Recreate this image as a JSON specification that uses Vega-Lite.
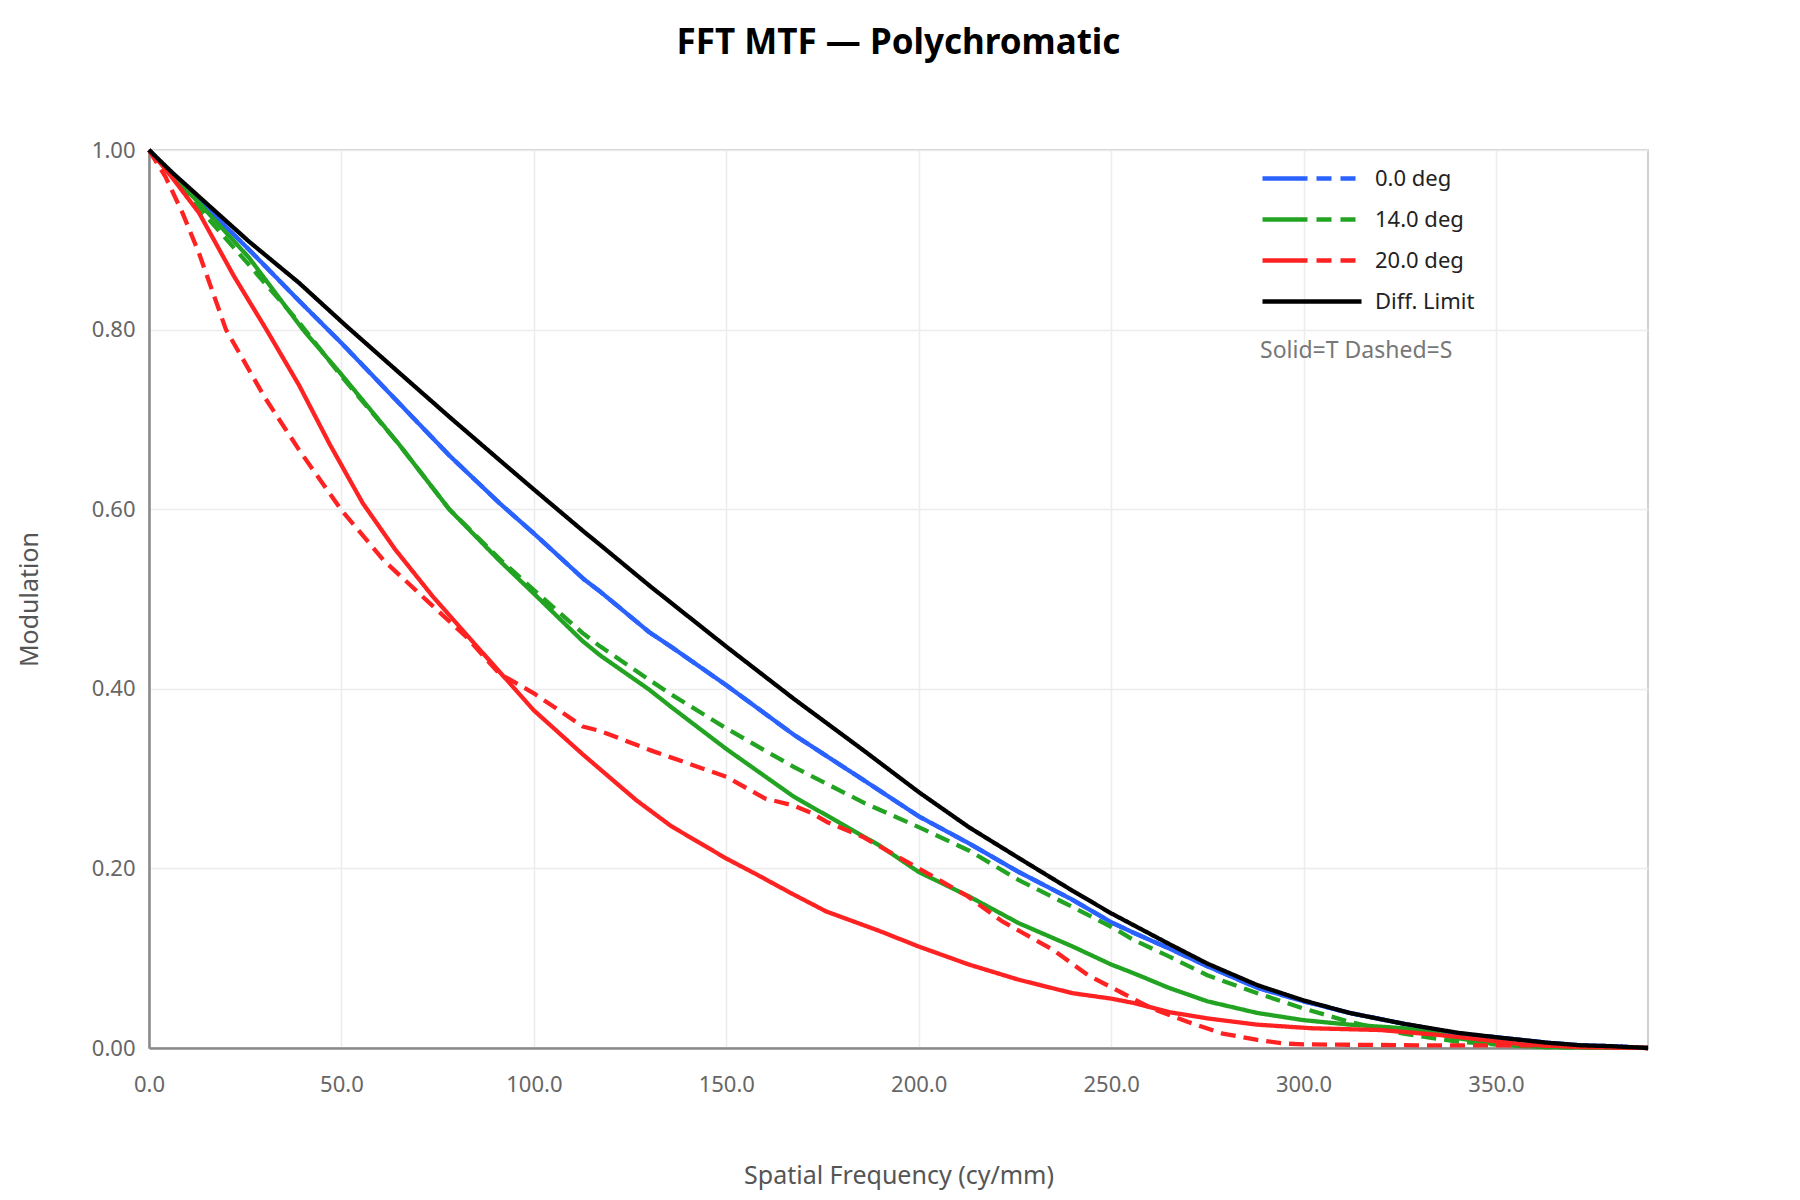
{
  "$schema": "https://vega.github.io/schema/vega-lite/v6.json",
  "width": 1499,
  "height": 898,
  "autosize": {"type": "none"},
  "padding": {"left": 149, "top": 150, "right": 152, "bottom": 152},
  "background": "white",
  "title": {"text": "FFT MTF — Polychromatic", "fontSize": 35, "fontWeight": "bold", "font": "Noto Sans", "color": "#000000", "anchor": "middle", "offset": 78},
  "datasets": {
    "mtf": [
      {"series":"0.0 deg","dir":"T","freq":0,"mtf":1},{"series":"0.0 deg","dir":"T","freq":6,"mtf":0.972},{"series":"0.0 deg","dir":"T","freq":13,"mtf":0.944},{"series":"0.0 deg","dir":"T","freq":26,"mtf":0.889},{"series":"0.0 deg","dir":"T","freq":39,"mtf":0.832},{"series":"0.0 deg","dir":"T","freq":50,"mtf":0.785},{"series":"0.0 deg","dir":"T","freq":65,"mtf":0.718},{"series":"0.0 deg","dir":"T","freq":78,"mtf":0.66},{"series":"0.0 deg","dir":"T","freq":91,"mtf":0.607},{"series":"0.0 deg","dir":"T","freq":100,"mtf":0.573},{"series":"0.0 deg","dir":"T","freq":113,"mtf":0.522},{"series":"0.0 deg","dir":"T","freq":117.3,"mtf":0.508},{"series":"0.0 deg","dir":"T","freq":130,"mtf":0.463},{"series":"0.0 deg","dir":"T","freq":135.6,"mtf":0.447},{"series":"0.0 deg","dir":"T","freq":150,"mtf":0.404},{"series":"0.0 deg","dir":"T","freq":167.5,"mtf":0.349},{"series":"0.0 deg","dir":"T","freq":185.8,"mtf":0.298},{"series":"0.0 deg","dir":"T","freq":200,"mtf":0.258},{"series":"0.0 deg","dir":"T","freq":213,"mtf":0.228},{"series":"0.0 deg","dir":"T","freq":226,"mtf":0.196},{"series":"0.0 deg","dir":"T","freq":240,"mtf":0.165},{"series":"0.0 deg","dir":"T","freq":250,"mtf":0.14},{"series":"0.0 deg","dir":"T","freq":256,"mtf":0.128},{"series":"0.0 deg","dir":"T","freq":265,"mtf":0.111},{"series":"0.0 deg","dir":"T","freq":275,"mtf":0.091},{"series":"0.0 deg","dir":"T","freq":288,"mtf":0.067},{"series":"0.0 deg","dir":"T","freq":300,"mtf":0.052},{"series":"0.0 deg","dir":"T","freq":312,"mtf":0.039},{"series":"0.0 deg","dir":"T","freq":326,"mtf":0.027},{"series":"0.0 deg","dir":"T","freq":340,"mtf":0.016},{"series":"0.0 deg","dir":"T","freq":350,"mtf":0.012},{"series":"0.0 deg","dir":"T","freq":363,"mtf":0.006},{"series":"0.0 deg","dir":"T","freq":372,"mtf":0.003},{"series":"0.0 deg","dir":"T","freq":380,"mtf":0.002},{"series":"0.0 deg","dir":"T","freq":389.5,"mtf":0},
      {"series":"0.0 deg","dir":"S","freq":0,"mtf":1},{"series":"0.0 deg","dir":"S","freq":6,"mtf":0.972},{"series":"0.0 deg","dir":"S","freq":13,"mtf":0.944},{"series":"0.0 deg","dir":"S","freq":26,"mtf":0.889},{"series":"0.0 deg","dir":"S","freq":39,"mtf":0.832},{"series":"0.0 deg","dir":"S","freq":50,"mtf":0.785},{"series":"0.0 deg","dir":"S","freq":65,"mtf":0.718},{"series":"0.0 deg","dir":"S","freq":78,"mtf":0.66},{"series":"0.0 deg","dir":"S","freq":91,"mtf":0.607},{"series":"0.0 deg","dir":"S","freq":100,"mtf":0.573},{"series":"0.0 deg","dir":"S","freq":113,"mtf":0.522},{"series":"0.0 deg","dir":"S","freq":117.3,"mtf":0.508},{"series":"0.0 deg","dir":"S","freq":130,"mtf":0.463},{"series":"0.0 deg","dir":"S","freq":135.6,"mtf":0.447},{"series":"0.0 deg","dir":"S","freq":150,"mtf":0.404},{"series":"0.0 deg","dir":"S","freq":167.5,"mtf":0.349},{"series":"0.0 deg","dir":"S","freq":185.8,"mtf":0.298},{"series":"0.0 deg","dir":"S","freq":200,"mtf":0.258},{"series":"0.0 deg","dir":"S","freq":213,"mtf":0.228},{"series":"0.0 deg","dir":"S","freq":226,"mtf":0.196},{"series":"0.0 deg","dir":"S","freq":240,"mtf":0.165},{"series":"0.0 deg","dir":"S","freq":250,"mtf":0.14},{"series":"0.0 deg","dir":"S","freq":256,"mtf":0.128},{"series":"0.0 deg","dir":"S","freq":265,"mtf":0.111},{"series":"0.0 deg","dir":"S","freq":275,"mtf":0.091},{"series":"0.0 deg","dir":"S","freq":288,"mtf":0.067},{"series":"0.0 deg","dir":"S","freq":300,"mtf":0.052},{"series":"0.0 deg","dir":"S","freq":312,"mtf":0.039},{"series":"0.0 deg","dir":"S","freq":326,"mtf":0.027},{"series":"0.0 deg","dir":"S","freq":340,"mtf":0.016},{"series":"0.0 deg","dir":"S","freq":350,"mtf":0.012},{"series":"0.0 deg","dir":"S","freq":363,"mtf":0.006},{"series":"0.0 deg","dir":"S","freq":372,"mtf":0.003},{"series":"0.0 deg","dir":"S","freq":380,"mtf":0.002},{"series":"0.0 deg","dir":"S","freq":389.5,"mtf":0},
      {"series":"14.0 deg","dir":"T","freq":0,"mtf":1},{"series":"14.0 deg","dir":"T","freq":6,"mtf":0.972},{"series":"14.0 deg","dir":"T","freq":13,"mtf":0.941},{"series":"14.0 deg","dir":"T","freq":26,"mtf":0.88},{"series":"14.0 deg","dir":"T","freq":40,"mtf":0.8},{"series":"14.0 deg","dir":"T","freq":50,"mtf":0.75},{"series":"14.0 deg","dir":"T","freq":65,"mtf":0.672},{"series":"14.0 deg","dir":"T","freq":78,"mtf":0.6},{"series":"14.0 deg","dir":"T","freq":91,"mtf":0.543},{"series":"14.0 deg","dir":"T","freq":100,"mtf":0.506},{"series":"14.0 deg","dir":"T","freq":112.7,"mtf":0.453},{"series":"14.0 deg","dir":"T","freq":117.3,"mtf":0.437},{"series":"14.0 deg","dir":"T","freq":130,"mtf":0.399},{"series":"14.0 deg","dir":"T","freq":135.6,"mtf":0.38},{"series":"14.0 deg","dir":"T","freq":150,"mtf":0.333},{"series":"14.0 deg","dir":"T","freq":167.5,"mtf":0.28},{"series":"14.0 deg","dir":"T","freq":181,"mtf":0.247},{"series":"14.0 deg","dir":"T","freq":190,"mtf":0.225},{"series":"14.0 deg","dir":"T","freq":200,"mtf":0.196},{"series":"14.0 deg","dir":"T","freq":213,"mtf":0.169},{"series":"14.0 deg","dir":"T","freq":226,"mtf":0.139},{"series":"14.0 deg","dir":"T","freq":240,"mtf":0.113},{"series":"14.0 deg","dir":"T","freq":250,"mtf":0.093},{"series":"14.0 deg","dir":"T","freq":256,"mtf":0.083},{"series":"14.0 deg","dir":"T","freq":265,"mtf":0.067},{"series":"14.0 deg","dir":"T","freq":275,"mtf":0.052},{"series":"14.0 deg","dir":"T","freq":288,"mtf":0.039},{"series":"14.0 deg","dir":"T","freq":300,"mtf":0.031},{"series":"14.0 deg","dir":"T","freq":312,"mtf":0.026},{"series":"14.0 deg","dir":"T","freq":326,"mtf":0.022},{"series":"14.0 deg","dir":"T","freq":335,"mtf":0.016},{"series":"14.0 deg","dir":"T","freq":340,"mtf":0.011},{"series":"14.0 deg","dir":"T","freq":350,"mtf":0.004},{"series":"14.0 deg","dir":"T","freq":363,"mtf":0.001},{"series":"14.0 deg","dir":"T","freq":389.5,"mtf":0},
      {"series":"14.0 deg","dir":"S","freq":0,"mtf":1},{"series":"14.0 deg","dir":"S","freq":6,"mtf":0.97},{"series":"14.0 deg","dir":"S","freq":13,"mtf":0.935},{"series":"14.0 deg","dir":"S","freq":26,"mtf":0.872},{"series":"14.0 deg","dir":"S","freq":39,"mtf":0.808},{"series":"14.0 deg","dir":"S","freq":50,"mtf":0.748},{"series":"14.0 deg","dir":"S","freq":65,"mtf":0.672},{"series":"14.0 deg","dir":"S","freq":78,"mtf":0.6},{"series":"14.0 deg","dir":"S","freq":91,"mtf":0.545},{"series":"14.0 deg","dir":"S","freq":100,"mtf":0.51},{"series":"14.0 deg","dir":"S","freq":112.7,"mtf":0.462},{"series":"14.0 deg","dir":"S","freq":117.3,"mtf":0.447},{"series":"14.0 deg","dir":"S","freq":130,"mtf":0.41},{"series":"14.0 deg","dir":"S","freq":135.6,"mtf":0.394},{"series":"14.0 deg","dir":"S","freq":150,"mtf":0.356},{"series":"14.0 deg","dir":"S","freq":167.5,"mtf":0.313},{"series":"14.0 deg","dir":"S","freq":185.8,"mtf":0.273},{"series":"14.0 deg","dir":"S","freq":200,"mtf":0.246},{"series":"14.0 deg","dir":"S","freq":213,"mtf":0.22},{"series":"14.0 deg","dir":"S","freq":226,"mtf":0.187},{"series":"14.0 deg","dir":"S","freq":240,"mtf":0.157},{"series":"14.0 deg","dir":"S","freq":250,"mtf":0.135},{"series":"14.0 deg","dir":"S","freq":256,"mtf":0.12},{"series":"14.0 deg","dir":"S","freq":265,"mtf":0.102},{"series":"14.0 deg","dir":"S","freq":275,"mtf":0.081},{"series":"14.0 deg","dir":"S","freq":288,"mtf":0.061},{"series":"14.0 deg","dir":"S","freq":300,"mtf":0.044},{"series":"14.0 deg","dir":"S","freq":312,"mtf":0.029},{"series":"14.0 deg","dir":"S","freq":326,"mtf":0.016},{"series":"14.0 deg","dir":"S","freq":340,"mtf":0.007},{"series":"14.0 deg","dir":"S","freq":350,"mtf":0.004},{"series":"14.0 deg","dir":"S","freq":363,"mtf":0.001},{"series":"14.0 deg","dir":"S","freq":389.5,"mtf":0},
      {"series":"20.0 deg","dir":"T","freq":0,"mtf":1},{"series":"20.0 deg","dir":"T","freq":5,"mtf":0.975},{"series":"20.0 deg","dir":"T","freq":13,"mtf":0.93},{"series":"20.0 deg","dir":"T","freq":22,"mtf":0.86},{"series":"20.0 deg","dir":"T","freq":30.5,"mtf":0.8},{"series":"20.0 deg","dir":"T","freq":39,"mtf":0.738},{"series":"20.0 deg","dir":"T","freq":47,"mtf":0.672},{"series":"20.0 deg","dir":"T","freq":55.5,"mtf":0.607},{"series":"20.0 deg","dir":"T","freq":64,"mtf":0.555},{"series":"20.0 deg","dir":"T","freq":73.7,"mtf":0.503},{"series":"20.0 deg","dir":"T","freq":86.7,"mtf":0.44},{"series":"20.0 deg","dir":"T","freq":100,"mtf":0.376},{"series":"20.0 deg","dir":"T","freq":112.7,"mtf":0.327},{"series":"20.0 deg","dir":"T","freq":126.6,"mtf":0.276},{"series":"20.0 deg","dir":"T","freq":135.7,"mtf":0.247},{"series":"20.0 deg","dir":"T","freq":150,"mtf":0.211},{"series":"20.0 deg","dir":"T","freq":158,"mtf":0.193},{"series":"20.0 deg","dir":"T","freq":167,"mtf":0.172},{"series":"20.0 deg","dir":"T","freq":176,"mtf":0.152},{"series":"20.0 deg","dir":"T","freq":190,"mtf":0.13},{"series":"20.0 deg","dir":"T","freq":200,"mtf":0.113},{"series":"20.0 deg","dir":"T","freq":213,"mtf":0.093},{"series":"20.0 deg","dir":"T","freq":226,"mtf":0.076},{"series":"20.0 deg","dir":"T","freq":240,"mtf":0.061},{"series":"20.0 deg","dir":"T","freq":250,"mtf":0.055},{"series":"20.0 deg","dir":"T","freq":256,"mtf":0.05},{"series":"20.0 deg","dir":"T","freq":265,"mtf":0.04},{"series":"20.0 deg","dir":"T","freq":275,"mtf":0.033},{"series":"20.0 deg","dir":"T","freq":288,"mtf":0.026},{"series":"20.0 deg","dir":"T","freq":302,"mtf":0.022},{"series":"20.0 deg","dir":"T","freq":320,"mtf":0.02},{"series":"20.0 deg","dir":"T","freq":334,"mtf":0.015},{"series":"20.0 deg","dir":"T","freq":343,"mtf":0.011},{"series":"20.0 deg","dir":"T","freq":357,"mtf":0.004},{"series":"20.0 deg","dir":"T","freq":372,"mtf":0.001},{"series":"20.0 deg","dir":"T","freq":389.5,"mtf":0},
      {"series":"20.0 deg","dir":"S","freq":0,"mtf":1},{"series":"20.0 deg","dir":"S","freq":4.3,"mtf":0.97},{"series":"20.0 deg","dir":"S","freq":8.7,"mtf":0.93},{"series":"20.0 deg","dir":"S","freq":13,"mtf":0.885},{"series":"20.0 deg","dir":"S","freq":20,"mtf":0.8},{"series":"20.0 deg","dir":"S","freq":30,"mtf":0.725},{"series":"20.0 deg","dir":"S","freq":39,"mtf":0.666},{"series":"20.0 deg","dir":"S","freq":50,"mtf":0.599},{"series":"20.0 deg","dir":"S","freq":61,"mtf":0.543},{"series":"20.0 deg","dir":"S","freq":71,"mtf":0.503},{"series":"20.0 deg","dir":"S","freq":82.4,"mtf":0.458},{"series":"20.0 deg","dir":"S","freq":91,"mtf":0.417},{"series":"20.0 deg","dir":"S","freq":100,"mtf":0.395},{"series":"20.0 deg","dir":"S","freq":112.7,"mtf":0.358},{"series":"20.0 deg","dir":"S","freq":117.3,"mtf":0.353},{"series":"20.0 deg","dir":"S","freq":130,"mtf":0.332},{"series":"20.0 deg","dir":"S","freq":150,"mtf":0.302},{"series":"20.0 deg","dir":"S","freq":160,"mtf":0.278},{"series":"20.0 deg","dir":"S","freq":167.5,"mtf":0.27},{"series":"20.0 deg","dir":"S","freq":172,"mtf":0.262},{"series":"20.0 deg","dir":"S","freq":176,"mtf":0.252},{"series":"20.0 deg","dir":"S","freq":185.5,"mtf":0.235},{"series":"20.0 deg","dir":"S","freq":200,"mtf":0.2},{"series":"20.0 deg","dir":"S","freq":212.7,"mtf":0.169},{"series":"20.0 deg","dir":"S","freq":221.7,"mtf":0.141},{"series":"20.0 deg","dir":"S","freq":235,"mtf":0.109},{"series":"20.0 deg","dir":"S","freq":244,"mtf":0.081},{"series":"20.0 deg","dir":"S","freq":253,"mtf":0.061},{"series":"20.0 deg","dir":"S","freq":260.6,"mtf":0.044},{"series":"20.0 deg","dir":"S","freq":270,"mtf":0.029},{"series":"20.0 deg","dir":"S","freq":279,"mtf":0.016},{"series":"20.0 deg","dir":"S","freq":288,"mtf":0.009},{"series":"20.0 deg","dir":"S","freq":295,"mtf":0.005},{"series":"20.0 deg","dir":"S","freq":300,"mtf":0.004},{"series":"20.0 deg","dir":"S","freq":330,"mtf":0.003},{"series":"20.0 deg","dir":"S","freq":360,"mtf":0.003},{"series":"20.0 deg","dir":"S","freq":389.5,"mtf":0},
      {"series":"Diff. Limit","dir":"D","freq":0,"mtf":1},{"series":"Diff. Limit","dir":"D","freq":6,"mtf":0.975},{"series":"Diff. Limit","dir":"D","freq":13,"mtf":0.948},{"series":"Diff. Limit","dir":"D","freq":26,"mtf":0.898},{"series":"Diff. Limit","dir":"D","freq":39,"mtf":0.852},{"series":"Diff. Limit","dir":"D","freq":51,"mtf":0.805},{"series":"Diff. Limit","dir":"D","freq":65,"mtf":0.752},{"series":"Diff. Limit","dir":"D","freq":78,"mtf":0.703},{"series":"Diff. Limit","dir":"D","freq":91,"mtf":0.655},{"series":"Diff. Limit","dir":"D","freq":100,"mtf":0.622},{"series":"Diff. Limit","dir":"D","freq":113,"mtf":0.575},{"series":"Diff. Limit","dir":"D","freq":117.3,"mtf":0.56},{"series":"Diff. Limit","dir":"D","freq":130,"mtf":0.515},{"series":"Diff. Limit","dir":"D","freq":150,"mtf":0.447},{"series":"Diff. Limit","dir":"D","freq":167.5,"mtf":0.389},{"series":"Diff. Limit","dir":"D","freq":185.8,"mtf":0.331},{"series":"Diff. Limit","dir":"D","freq":200,"mtf":0.285},{"series":"Diff. Limit","dir":"D","freq":213,"mtf":0.246},{"series":"Diff. Limit","dir":"D","freq":226.6,"mtf":0.21},{"series":"Diff. Limit","dir":"D","freq":240,"mtf":0.175},{"series":"Diff. Limit","dir":"D","freq":250,"mtf":0.15},{"series":"Diff. Limit","dir":"D","freq":265,"mtf":0.116},{"series":"Diff. Limit","dir":"D","freq":275,"mtf":0.094},{"series":"Diff. Limit","dir":"D","freq":288,"mtf":0.07},{"series":"Diff. Limit","dir":"D","freq":300,"mtf":0.053},{"series":"Diff. Limit","dir":"D","freq":312,"mtf":0.039},{"series":"Diff. Limit","dir":"D","freq":326,"mtf":0.027},{"series":"Diff. Limit","dir":"D","freq":340,"mtf":0.017},{"series":"Diff. Limit","dir":"D","freq":350,"mtf":0.012},{"series":"Diff. Limit","dir":"D","freq":363,"mtf":0.006},{"series":"Diff. Limit","dir":"D","freq":372,"mtf":0.003},{"series":"Diff. Limit","dir":"D","freq":380,"mtf":0.002},{"series":"Diff. Limit","dir":"D","freq":389.5,"mtf":0}
    ]
  },
  "data": {"name": "mtf"},
  "mark": {"type": "line", "strokeCap": "butt", "strokeJoin": "round"},
  "encoding": {
    "x": {
      "field": "freq", "type": "quantitative",
      "scale": {"domain": [0, 389.5], "nice": false, "zero": false},
      "axis": {"values": [0, 50, 100, 150, 200, 250, 300, 350], "format": ".1f", "title": "Spatial Frequency (cy/mm)"}
    },
    "y": {
      "field": "mtf", "type": "quantitative",
      "scale": {"domain": [0, 1], "nice": false},
      "axis": {"values": [0, 0.2, 0.4, 0.6, 0.8, 1], "format": ".2f", "title": "Modulation"}
    },
    "color": {
      "field": "series", "type": "nominal",
      "scale": {"domain": ["0.0 deg", "14.0 deg", "20.0 deg", "Diff. Limit"], "range": ["#2962ff", "#22a322", "#ff2222", "#000000"]},
      "legend": {
        "orient": "none", "legendX": 1111, "legendY": 16,
        "title": "Solid=T Dashed=S", "titleOrient": "bottom", "titleAnchor": "start", "titleLimit": 500,
        "titleFontWeight": "normal", "titleColor": "#777777", "titleFontSize": 23, "titlePadding": 27,
        "labelFontSize": 22, "labelColor": "#222222", "labelOffset": 90,
        "symbolSize": 400, "symbolStrokeWidth": 4, "rowPadding": 17, "padding": 0,
        "symbolType": "M-1,0H3.5M4.4,0H5.9M6.8,0H8.3",
        "encode": {
          "symbols": {
            "update": {
              "shape": {"signal": "datum.value === 'Diff. Limit' ? 'M-1,0H8.9' : 'M-1,0H3.5M4.4,0H5.9M6.8,0H8.3'"}
            }
          }
        }
      }
    },
    "strokeDash": {
      "field": "dir", "type": "nominal",
      "scale": {"domain": ["T", "S", "D"], "range": [[1, 0], [15, 8], [1, 0]]},
      "legend": null
    },
    "strokeWidth": {
      "field": "series", "type": "ordinal",
      "scale": {"domain": ["0.0 deg", "14.0 deg", "20.0 deg", "Diff. Limit"], "range": [4.3, 4.3, 4.3, 5.5]},
      "legend": null
    }
  },
  "config": {
    "font": "Noto Sans",
    "view": {"stroke": "#d0d0d0", "strokeWidth": 2},
    "axis": {
      "gridColor": "#ececec", "gridWidth": 1.5,
      "domainColor": "#8a8a8a", "domainWidth": 2.5,
      "ticks": false, "labelFlush": false,
      "labelColor": "#666666", "labelFontSize": 22,
      "titleColor": "#555555", "titleFontSize": 25, "titleFontWeight": "normal"
    },
    "axisX": {"labelPadding": 26, "titlePadding": 68},
    "axisY": {"labelPadding": 14, "titlePadding": 49}
  }
}
